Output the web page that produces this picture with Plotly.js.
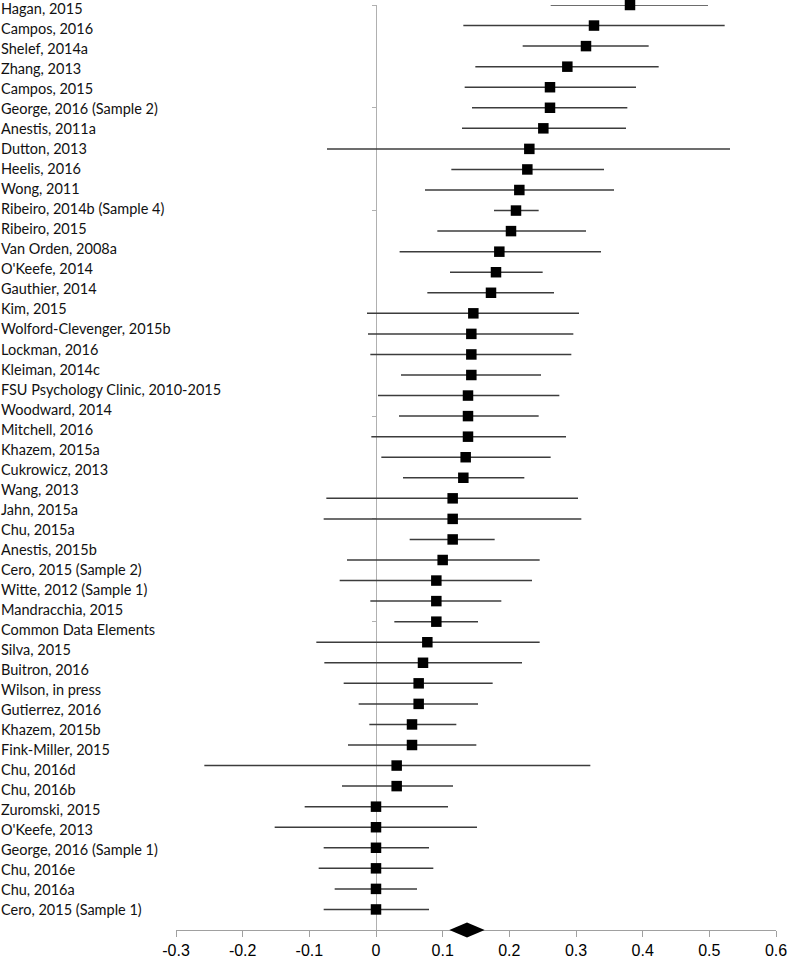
<!DOCTYPE html>
<html>
<head>
<meta charset="utf-8">
<script src="https://cdn.plot.ly/plotly-3.0.1.min.js"></script>
<style>
  html, body { margin: 0; padding: 0; background: #fff; }
  #plot { width: 800px; height: 960px; }
</style>
</head>
<body>
<div id="plot"></div>
<script>
// study labels (text column, 46 rows)
const studies = [
    'Hagan, 2015', 'Campos, 2016', 'Shelef, 2014a', 'Zhang, 2013', 'Campos, 2015',
    'George, 2016 (Sample 2)', 'Anestis, 2011a', 'Dutton, 2013', 'Heelis, 2016', 'Wong, 2011',
    'Ribeiro, 2014b (Sample 4)', 'Ribeiro, 2015', 'Van Orden, 2008a', "O'Keefe, 2014", 'Gauthier, 2014',
    'Kim, 2015', 'Wolford-Clevenger, 2015b', 'Lockman, 2016', 'Kleiman, 2014c', 'FSU Psychology Clinic, 2010-2015',
    'Woodward, 2014', 'Mitchell, 2016', 'Khazem, 2015a', 'Cukrowicz, 2013', 'Wang, 2013',
    'Jahn, 2015a', 'Chu, 2015a', 'Anestis, 2015b', 'Cero, 2015 (Sample 2)', 'Witte, 2012 (Sample 1)',
    'Mandracchia, 2015', 'Common Data Elements', 'Silva, 2015', 'Buitron, 2016', 'Wilson, in press',
    'Gutierrez, 2016', 'Khazem, 2015b', 'Fink-Miller, 2015', 'Chu, 2016d', 'Chu, 2016b',
    'Zuromski, 2015', "O'Keefe, 2013", 'George, 2016 (Sample 1)', 'Chu, 2016e', 'Chu, 2016a',
    'Cero, 2015 (Sample 1)'
];

// effect sizes and 95% CI, top to bottom (45 plotted rows)
const est = [0.381, 0.327, 0.315, 0.287, 0.261, 0.261, 0.251, 0.230, 0.227, 0.215,
    0.210, 0.2025, 0.185, 0.180, 0.1725, 0.146, 0.143, 0.143, 0.143, 0.138,
    0.138, 0.138, 0.1345, 0.131, 0.115, 0.115, 0.115, 0.100, 0.0905, 0.0905,
    0.0905, 0.077, 0.0705, 0.064, 0.064, 0.054, 0.054, 0.031, 0.031, 0,
    0, 0, 0, 0, 0];
const lo = [0.262, 0.131, 0.220, 0.149, 0.133, 0.144, 0.129, -0.0735, 0.113, 0.0735,
    0.177, 0.092, 0.0354, 0.111, 0.077, -0.0135, -0.012, -0.0085, 0.0375, 0.003,
    0.0345, -0.007, 0.008, 0.0405, -0.0745, -0.0785, 0.0505, -0.0435, -0.0545, -0.0085,
    0.0275, -0.0895, -0.0775, -0.0485, -0.026, -0.010, -0.042, -0.2575, -0.051, -0.107,
    -0.152, -0.0785, -0.086, -0.062, -0.0785];
const hi = [0.498, 0.523, 0.409, 0.424, 0.390, 0.377, 0.375, 0.531, 0.342, 0.357,
    0.244, 0.315, 0.3375, 0.250, 0.267, 0.3045, 0.296, 0.293, 0.2475, 0.275,
    0.244, 0.285, 0.262, 0.2225, 0.303, 0.308, 0.178, 0.2455, 0.234, 0.188,
    0.153, 0.2455, 0.219, 0.175, 0.153, 0.1205, 0.1505, 0.3215, 0.1155, 0.108,
    0.1515, 0.0795, 0.086, 0.0615, 0.0795];

// pooled estimate [lower, estimate, upper]
const pooled = [0.110, 0.1365, 0.163];

const tickVals = [-0.3, -0.2, -0.1, 0, 0.1, 0.2, 0.3, 0.4, 0.5, 0.6];
const tickText = ['-0.3', '-0.2', '-0.1', '0', '0.1', '0.2', '0.3', '0.4', '0.5', '0.6'];

const xRange = [-0.3, 0.6];
const nRows = est.length;
const rows = est.map((_, i) => nRows - i);   // top row highest

const trace = {
    type: 'scatter', mode: 'markers',
    x: est, y: rows,
    marker: { symbol: 'square', size: 10.5, color: '#000' },
    error_x: {
        type: 'data', symmetric: false,
        array: hi.map((h, i) => h - est[i]),
        arrayminus: lo.map((l, i) => est[i] - l),
        width: 0, thickness: 1.5, color: '#3c3c3c'
    },
    cliponaxis: false,
    hoverinfo: 'x+y',
    showlegend: false
};

const labelFont = { family: 'Lato, sans-serif', size: 14.5, color: '#111' };
const annotations = studies.map((s, i) => ({
    text: s, xref: 'paper', yref: 'y2', x: -0.2917, y: i,
    xanchor: 'left', yanchor: 'middle', showarrow: false,
    borderpad: 0, borderwidth: 0, font: labelFont
}));

const half = 0.0081;   // diamond half height, paper units
const diamond = {
    type: 'path', xref: 'x', yref: 'paper',
    path: `M ${pooled[0]},0 L ${pooled[1]},${half} L ${pooled[2]},0 L ${pooled[1]},${-half} Z`,
    fillcolor: '#000', line: { width: 0 }, layer: 'above'
};

const layout = {
    width: 800, height: 960,
    margin: { l: 176, r: 24, t: 5, b: 30 },
    paper_bgcolor: '#fff', plot_bgcolor: '#fff',
    showlegend: false,
    xaxis: {
        range: xRange, tickvals: tickVals, ticktext: tickText,
        showline: true, linecolor: '#a0a0a0', linewidth: 1,
        ticks: 'outside', ticklen: 6, tickcolor: '#a0a0a0',
        showgrid: false, zeroline: false,
        tickfont: { family: 'Liberation Sans, Arial, sans-serif', size: 16, color: '#000' }
    },
    yaxis: {
        range: [0, nRows], anchor: 'free',
        position: (0 - xRange[0]) / (xRange[1] - xRange[0]),
        showline: true, linecolor: '#b0b0b0', linewidth: 1,
        ticks: 'outside', ticklen: 4, tickcolor: '#b0b0b0', dtick: 5, tick0: 0,
        showticklabels: false, showgrid: false, zeroline: false,
        layer: 'below traces'
    },
    yaxis2: {
        overlaying: 'y', range: [46.0, -0.17],
        showline: false, showticklabels: false, ticks: '', showgrid: false, zeroline: false
    },
    shapes: [diamond],
    annotations: annotations
};

Plotly.newPlot('plot', [trace], layout, { staticPlot: true });
</script>
</body>
</html>
